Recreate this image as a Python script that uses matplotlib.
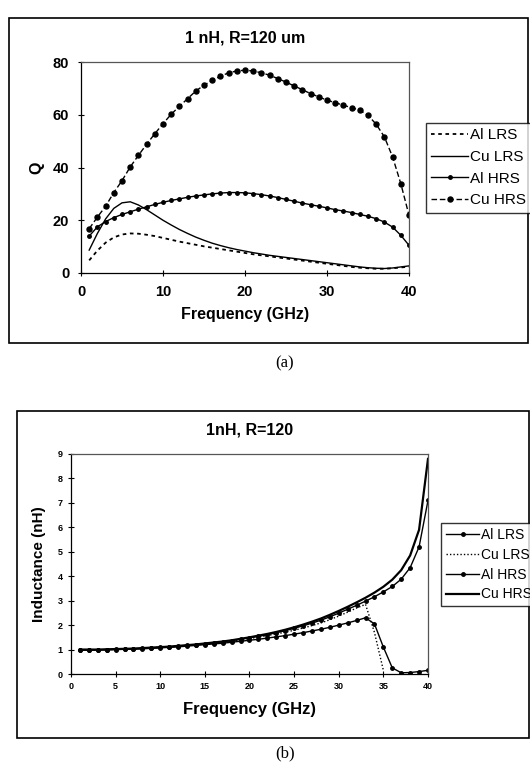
import numpy as np
import matplotlib
matplotlib.use("Agg")
import matplotlib.pyplot as plt
from matplotlib.patches import Rectangle

plt.rcParams['font.family'] = ['Liberation Sans', 'DejaVu Sans']

freq = list(range(1, 41))

# ---- (a) Q vs frequency ----
q_al_lrs = [4.8, 8.5, 11.5, 13.5, 14.6, 15.0, 14.9, 14.5, 14.0, 13.3,
            12.6, 11.9, 11.3, 10.7, 10.1, 9.6, 9.1, 8.6, 8.1, 7.6,
            7.1, 6.7, 6.3, 5.9, 5.5, 5.1, 4.7, 4.3, 3.9, 3.5,
            3.1, 2.7, 2.3, 2.0, 1.8, 1.6, 1.6, 1.8, 2.1, 2.4]
q_cu_lrs = [8.7, 15.0, 20.5, 24.5, 26.6, 27.0, 25.8, 24.0, 22.0, 20.0,
            18.2, 16.5, 15.0, 13.6, 12.4, 11.3, 10.4, 9.6, 8.9, 8.3,
            7.7, 7.2, 6.7, 6.3, 5.9, 5.5, 5.1, 4.7, 4.3, 3.9,
            3.5, 3.1, 2.7, 2.3, 2.0, 1.8, 1.7, 1.9, 2.3, 2.7]
q_al_hrs = [14.0, 17.5, 19.5, 21.0, 22.2, 23.2, 24.2, 25.1, 26.0, 26.8,
            27.5, 28.1, 28.7, 29.2, 29.6, 30.0, 30.3, 30.5, 30.5, 30.4,
            30.1, 29.7, 29.2, 28.6, 27.9, 27.2, 26.5, 25.9, 25.3, 24.7,
            24.0, 23.5, 22.9, 22.2, 21.5, 20.6, 19.3, 17.4, 14.3, 10.5]
q_cu_hrs = [16.8, 21.2, 25.3, 30.5, 35.0, 40.2, 44.6, 48.8, 52.8, 56.6,
            60.2, 63.2, 66.1, 69.0, 71.2, 73.0, 74.6, 75.9, 76.6, 76.9,
            76.6, 75.9, 75.0, 73.7, 72.4, 70.9, 69.5, 68.0, 66.8, 65.5,
            64.6, 63.6, 62.7, 61.7, 59.8, 56.4, 51.6, 44.0, 33.9, 21.9]

# ---- (b) Inductance vs frequency ----
l_al_lrs = [0.97, 0.97, 0.98, 0.99, 1.00, 1.01, 1.02, 1.03, 1.05, 1.07,
            1.09, 1.11, 1.14, 1.17, 1.20, 1.23, 1.26, 1.30, 1.34, 1.38,
            1.42, 1.47, 1.52, 1.57, 1.63, 1.69, 1.76, 1.83, 1.91, 2.00,
            2.09, 2.19, 2.30, 2.05, 1.10, 0.25, 0.05, 0.06, 0.10, 0.15]
l_cu_lrs = [0.98, 0.98, 0.99, 1.00, 1.01, 1.02, 1.03, 1.05, 1.07, 1.09,
            1.11, 1.14, 1.17, 1.20, 1.23, 1.27, 1.31, 1.35, 1.40, 1.45,
            1.51, 1.57, 1.64, 1.71, 1.79, 1.88, 1.98, 2.09, 2.22, 2.37,
            2.53, 2.70, 2.85, 1.70, 0.15, np.nan, np.nan, np.nan, np.nan, np.nan]
l_al_hrs = [0.98, 0.98, 0.99, 1.00, 1.01, 1.02, 1.03, 1.05, 1.07, 1.09,
            1.11, 1.14, 1.17, 1.20, 1.24, 1.28, 1.32, 1.37, 1.42, 1.48,
            1.54, 1.61, 1.69, 1.77, 1.87, 1.97, 2.08, 2.20, 2.34, 2.49,
            2.65, 2.81, 2.98, 3.16, 3.36, 3.58, 3.88, 4.35, 5.20, 7.10]
l_cu_hrs = [1.00, 1.00, 1.00, 1.01, 1.02, 1.03, 1.04, 1.06, 1.08, 1.10,
            1.12, 1.15, 1.18, 1.21, 1.25, 1.29, 1.33, 1.38, 1.44, 1.50,
            1.57, 1.64, 1.72, 1.81, 1.91, 2.02, 2.14, 2.27, 2.42, 2.58,
            2.75, 2.93, 3.12, 3.33, 3.57, 3.86, 4.25, 4.85, 5.90, 8.80]

labels = ["Al LRS", "Cu LRS", "Al HRS", "Cu HRS"]

W, H = 530, 762
fig = plt.figure(figsize=(W / 100, H / 100), dpi=100)


def fx(px):
    return px / W


def fy(py):
    return 1 - py / H


# outer frames
fig.patches.append(Rectangle((fx(9), fy(343)), fx(528 - 9), (343 - 18) / H,
                             transform=fig.transFigure, fill=False,
                             edgecolor='black', linewidth=1.2))
fig.patches.append(Rectangle((fx(17), fy(738)), fx(529 - 17), (738 - 411) / H,
                             transform=fig.transFigure, fill=False,
                             edgecolor='black', linewidth=1.2))

# ---- top axes ----
ax1 = fig.add_axes([fx(81), fy(273), fx(409 - 81), (273 - 62) / H])
ax1.plot(freq, q_al_lrs, color='black', linestyle=(0, (2, 2)), linewidth=1.3, label=labels[0])
ax1.plot(freq, q_cu_lrs, color='black', linestyle='-', linewidth=1.0, label=labels[1])
ax1.plot(freq, q_al_hrs, color='black', linestyle='-', linewidth=1.0,
         marker='o', markersize=2.5, label=labels[2])
ax1.plot(freq, q_cu_hrs, color='black', linestyle=(0, (4, 2)), linewidth=1.0,
         marker='o', markersize=3.6, label=labels[3])
ax1.set_xlim(0, 40)
ax1.set_ylim(0, 80)
ax1.set_xticks([0, 10, 20, 30, 40])
ax1.set_yticks([0, 20, 40, 60, 80])
ax1.tick_params(direction='inout', length=5, width=0.8, labelsize=10.5, pad=6)
for t in ax1.get_xticklabels() + ax1.get_yticklabels():
    t.set_fontweight('bold')
ax1.set_title("1 nH, R=120 um", fontsize=11.5, fontweight='bold', pad=14)
ax1.set_xlabel("Frequency (GHz)", fontsize=11.5, fontweight='bold', labelpad=6)
ax1.set_ylabel("Q", fontsize=11.5, fontweight='bold', labelpad=6)
for s in ax1.spines.values():
    s.set_linewidth(0.9)
ax1.spines['top'].set_color('#555555')
ax1.spines['right'].set_color('#555555')

h1, l1 = ax1.get_legend_handles_labels()
fig.legend(h1, l1, loc='upper left', bbox_to_anchor=(fx(426), fy(123)),
           frameon=True, fancybox=False, edgecolor='black', fontsize=11,
           handlelength=2.4, handletextpad=0.1, borderpad=0.35, labelspacing=0.5,
           borderaxespad=0).get_frame().set_linewidth(1.0)

fig.text(fx(285), fy(363), "(a)", ha='center', va='center', fontsize=12,
         family=['Liberation Serif', 'DejaVu Serif'])

# ---- bottom axes ----
ax2 = fig.add_axes([fx(71), fy(674), fx(428 - 71), (674 - 454) / H])
ax2.plot(freq, l_al_lrs, color='black', linestyle='-', linewidth=1.0,
         marker='o', markersize=2.5, label=labels[0])
ax2.plot(freq, l_cu_lrs, color='black', linestyle=(0, (1, 1.5)), linewidth=1.0, label=labels[1])
ax2.plot(freq, l_al_hrs, color='black', linestyle='-', linewidth=1.0,
         marker='o', markersize=2.5, label=labels[2])
ax2.plot(freq, l_cu_hrs, color='black', linestyle='-', linewidth=1.6, label=labels[3])
ax2.set_xlim(0, 40)
ax2.set_ylim(0, 9)
ax2.set_xticks(range(0, 41, 5))
ax2.set_yticks(range(0, 10))
ax2.tick_params(direction='inout', length=4, width=0.8, labelsize=6.5, pad=4)
for t in ax2.get_xticklabels() + ax2.get_yticklabels():
    t.set_fontweight('bold')
ax2.set_title("1nH, R=120", fontsize=11.5, fontweight='bold', pad=14)
ax2.set_xlabel("Frequency (GHz)", fontsize=12, fontweight='bold', labelpad=8)
ax2.set_ylabel("Inductance (nH)", fontsize=11, fontweight='bold', labelpad=8)
for s in ax2.spines.values():
    s.set_linewidth(0.9)
ax2.spines['top'].set_color('#555555')
ax2.spines['right'].set_color('#555555')

h2, l2 = ax2.get_legend_handles_labels()
fig.legend(h2, l2, loc='upper left', bbox_to_anchor=(fx(441), fy(523)),
           frameon=True, fancybox=False, edgecolor='black', fontsize=10,
           handlelength=2.4, handletextpad=0.1, borderpad=0.35, labelspacing=0.42,
           borderaxespad=0).get_frame().set_linewidth(1.0)

fig.text(fx(285), fy(753), "(b)", ha='center', va='center', fontsize=12,
         family=['Liberation Serif', 'DejaVu Serif'])

fig.savefig("out.png", dpi=100)
